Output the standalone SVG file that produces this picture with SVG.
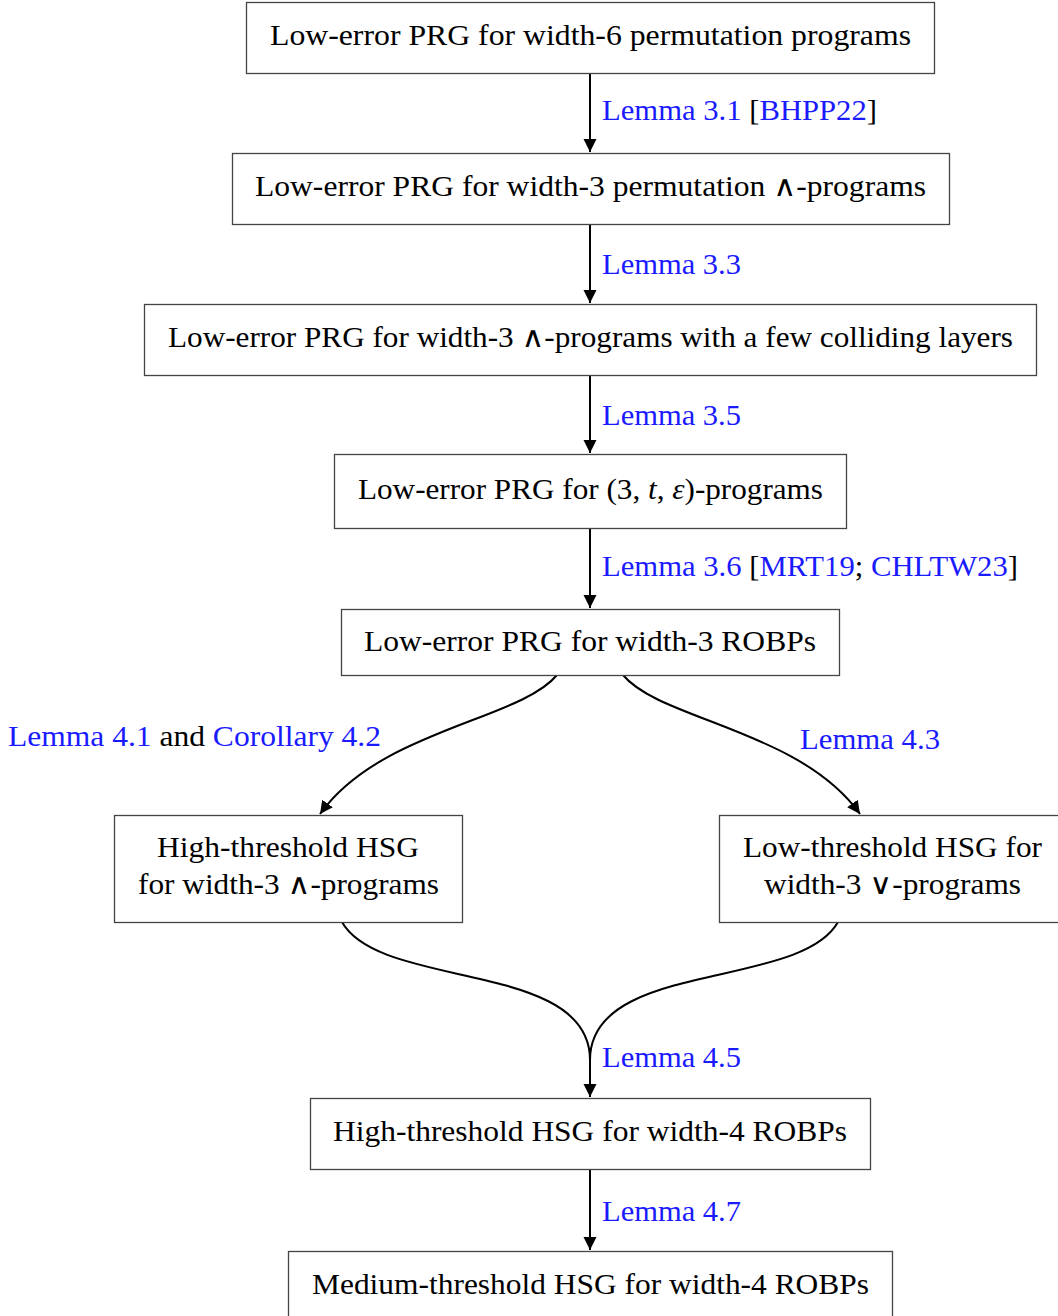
<svg xmlns="http://www.w3.org/2000/svg" width="1058" height="1316" viewBox="0 0 1058 1316">
<style>
.box{fill:#fff;stroke:#444;stroke-width:1.3}
.t{font-family:"Liberation Serif","DejaVu Serif",serif;font-size:28.5px;fill:#000}
.c{text-anchor:middle}
.b{fill:#1a1aff}
.k{fill:#000}
.i{font-style:italic}
.edge{fill:none;stroke:#000;stroke-width:2}
</style>
<defs>
<marker id="ah" markerUnits="userSpaceOnUse" markerWidth="16" markerHeight="14" refX="13" refY="6.5" orient="auto">
<path d="M0,0 L13,6.5 L0,13 z" fill="#000"/>
</marker>
</defs>
<g id="connectors">
<path class="edge" d="M590,73 L590,152" marker-end="url(#ah)"/>
<path class="edge" d="M590,224 L590,303" marker-end="url(#ah)"/>
<path class="edge" d="M590,375 L590,453" marker-end="url(#ah)"/>
<path class="edge" d="M590,528 L590,608" marker-end="url(#ah)"/>
<path class="edge" d="M557,675 C520,720 380,730 320,814" marker-end="url(#ah)"/>
<path class="edge" d="M623,675 C660,720 800,730 860,814" marker-end="url(#ah)"/>
<path class="edge" d="M342,922 C380,990 590,960 590,1060 L590,1097" marker-end="url(#ah)"/>
<path class="edge" d="M838,922 C800,990 590,960 590,1060"/>
<path class="edge" d="M590,1169 L590,1250" marker-end="url(#ah)"/>
<text class="t" x="602" y="120" textLength="275" lengthAdjust="spacingAndGlyphs"><tspan class="b">Lemma 3.1</tspan> <tspan class="k">[</tspan><tspan class="b">BHPP22</tspan><tspan class="k">]</tspan></text>
<text class="t b" x="602" y="274" textLength="139" lengthAdjust="spacingAndGlyphs">Lemma 3.3</text>
<text class="t b" x="602" y="425" textLength="139" lengthAdjust="spacingAndGlyphs">Lemma 3.5</text>
<text class="t" x="602" y="576" textLength="416" lengthAdjust="spacingAndGlyphs"><tspan class="b">Lemma 3.6</tspan> <tspan class="k">[</tspan><tspan class="b">MRT19</tspan><tspan class="k">; </tspan><tspan class="b">CHLTW23</tspan><tspan class="k">]</tspan></text>
<text class="t" x="8" y="746" textLength="373" lengthAdjust="spacingAndGlyphs"><tspan class="b">Lemma 4.1</tspan><tspan class="k"> and </tspan><tspan class="b">Corollary 4.2</tspan></text>
<text class="t b" x="800" y="749" textLength="140" lengthAdjust="spacingAndGlyphs">Lemma 4.3</text>
<text class="t b" x="602" y="1067" textLength="139" lengthAdjust="spacingAndGlyphs">Lemma 4.5</text>
<text class="t b" x="602" y="1221" textLength="139" lengthAdjust="spacingAndGlyphs">Lemma 4.7</text>
</g>
<g id="n1">
<rect class="box" x="246.5" y="2.5" width="688" height="71"/>
<text class="t" x="270" y="45" textLength="641" lengthAdjust="spacingAndGlyphs">Low-error PRG for width-6 permutation programs</text>
</g>
<g id="n2">
<rect class="box" x="232.5" y="153.5" width="717" height="71"/>
<text class="t" x="255" y="196" textLength="671" lengthAdjust="spacingAndGlyphs">Low-error PRG for width-3 permutation ∧-programs</text>
</g>
<g id="n3">
<rect class="box" x="144.5" y="304.5" width="892" height="71"/>
<text class="t" x="168" y="347" textLength="845" lengthAdjust="spacingAndGlyphs">Low-error PRG for width-3 ∧-programs with a few colliding layers</text>
</g>
<g id="n4">
<rect class="box" x="334.5" y="454.5" width="512" height="74"/>
<text class="t" x="358" y="499" textLength="465" lengthAdjust="spacingAndGlyphs">Low-error PRG for (3, <tspan class="i">t</tspan>, <tspan class="i">ε</tspan>)-programs</text>
</g>
<g id="n5">
<rect class="box" x="341.5" y="609.5" width="498" height="66"/>
<text class="t" x="364" y="651" textLength="452" lengthAdjust="spacingAndGlyphs">Low-error PRG for width-3 ROBPs</text>
</g>
<g id="n6">
<rect class="box" x="114.5" y="815.5" width="348" height="107"/>
<text class="t" x="157" y="857" textLength="262" lengthAdjust="spacingAndGlyphs">High-threshold HSG</text>
<text class="t" x="138" y="894" textLength="301" lengthAdjust="spacingAndGlyphs">for width-3 ∧-programs</text>
</g>
<g id="n7">
<rect class="box" x="719.5" y="815.5" width="346" height="107"/>
<text class="t" x="743" y="857" textLength="299" lengthAdjust="spacingAndGlyphs">Low-threshold HSG for</text>
<text class="t" x="764" y="894" textLength="257" lengthAdjust="spacingAndGlyphs">width-3 ∨-programs</text>
</g>
<g id="n8">
<rect class="box" x="310.5" y="1098.5" width="560" height="71"/>
<text class="t" x="333" y="1141" textLength="514" lengthAdjust="spacingAndGlyphs">High-threshold HSG for width-4 ROBPs</text>
</g>
<g id="n9">
<rect class="box" x="288.5" y="1251.5" width="604" height="71"/>
<text class="t" x="312" y="1294" textLength="557" lengthAdjust="spacingAndGlyphs">Medium-threshold HSG for width-4 ROBPs</text>
</g>
</svg>
